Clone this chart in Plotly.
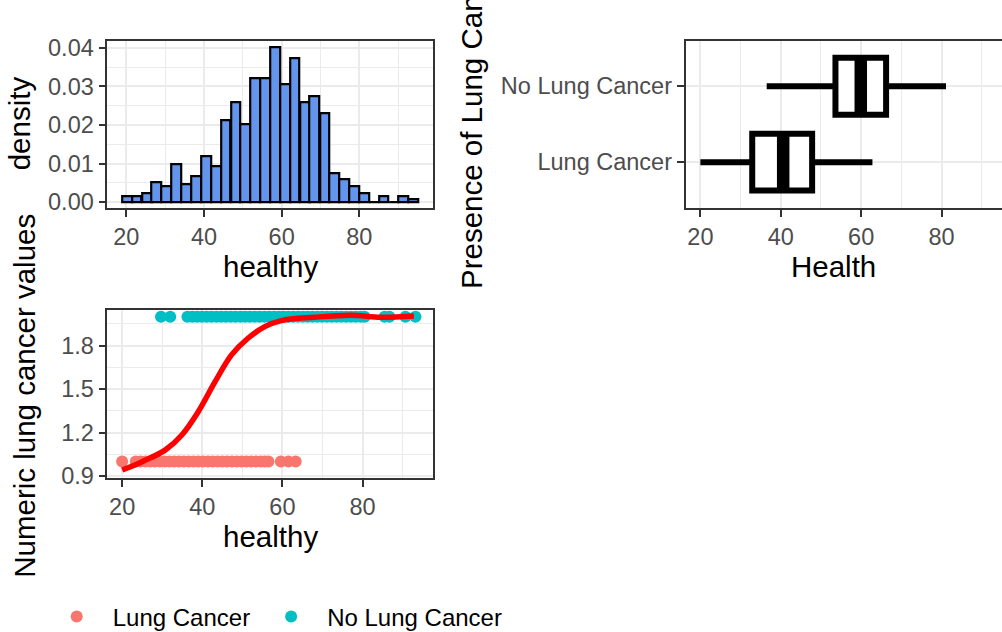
import plotly.graph_objects as go

# ---------------- data ----------------
# Histogram of "healthy" (density per bin, 30 bins)
hist_bin_centers = [20.2, 22.7, 25.3, 27.8, 30.4, 32.9, 35.4, 38.0, 40.5, 43.1,
                    45.6, 48.2, 50.7, 53.3, 55.8, 58.3, 60.9, 63.4, 66.0, 68.5,
                    71.1, 73.6, 76.1, 78.7, 81.2, 83.8, 86.3, 88.9, 91.4, 93.9]
hist_density = [0.0015, 0.0015, 0.0022, 0.0052, 0.0041, 0.0097, 0.0046, 0.0067, 0.0119, 0.0093,
                0.0211, 0.0259, 0.0201, 0.0320, 0.0320, 0.0401, 0.0306, 0.0373, 0.0259, 0.0275,
                0.0230, 0.0074, 0.0059, 0.0041, 0.0022, 0.0, 0.0015, 0.0, 0.0015, 0.0007]
hist_bin_width = 2.54

# Boxplot of Health by presence of lung cancer
box_categories = ["Lung Cancer", "No Lung Cancer"]
box_positions = [1, 2]
box_lowerfence = [20.0, 36.5]
box_q1 = [32.9, 53.6]
box_median = [40.6, 59.9]
box_q3 = [47.8, 66.2]
box_upperfence = [62.8, 81.1]

# Scatter: healthy vs numeric lung cancer value
lc_x = [20.0, 23.4, 24.6, 25.8, 27.0, 28.2, 29.4, 30.6, 31.8, 33.0, 34.2, 35.4, 36.6,
        37.8, 39.0, 40.2, 41.4, 42.6, 43.8, 45.0, 46.2, 47.4, 48.6, 49.8, 51.0, 52.2,
        53.4, 54.6, 55.6, 56.5, 59.6, 61.5, 63.3]
lc_y = [1] * len(lc_x)
nolc_x = [29.7, 32.0, 36.3, 37.5, 38.7, 39.9, 41.1, 42.3, 43.5, 44.7, 45.9, 47.1, 48.3,
          49.5, 50.7, 51.9, 53.1, 54.3, 55.5, 56.7, 57.9, 59.1, 60.3, 61.5, 62.7, 63.9,
          65.1, 66.3, 67.5, 68.7, 69.9, 71.1, 72.3, 73.5, 74.7, 75.9, 77.1, 78.3, 79.5,
          80.5, 85.5, 86.7, 90.7, 93.2]
nolc_y = [2] * len(nolc_x)

# Smoothed fit
smooth_x = [20.0, 25.0, 30.8, 34.9, 39.0, 43.2, 47.3, 51.4, 55.6, 59.7, 68.0, 77.1, 84.5, 92.8]
smooth_y = [0.941, 0.999, 1.08, 1.183, 1.344, 1.551, 1.736, 1.851, 1.931, 1.973, 1.996, 2.01, 1.996, 2.005]

# ---------------- styling ----------------
W, H = 1002, 632
FONT = "Liberation Sans, Arial, sans-serif"
TICK_FONT = dict(family=FONT, size=23.5, color="#4D4D4D")
TITLE_SIZE = 29.5
GRID = "#EBEBEB"
BORDER = "#333333"
C_LC = "#F8766D"
C_NOLC = "#00BFC4"


def px_x(p):
    return p / W


def px_y(p):
    return 1 - p / H


def axis_common(**kw):
    d = dict(showline=True, linecolor=BORDER, linewidth=1.6, ticks="outside", ticklen=7,
             tickwidth=2, tickcolor=BORDER, tickfont=TICK_FONT, showgrid=True,
             gridcolor=GRID, gridwidth=2.2, zeroline=False, automargin=False, fixedrange=True)
    d.update(kw)
    return d


fig = go.Figure()

# Histogram
fig.add_trace(go.Bar(x=hist_bin_centers, y=hist_density, width=hist_bin_width,
                     marker=dict(color="#6495ED", line=dict(color="black", width=2.2)),
                     showlegend=False, xaxis="x", yaxis="y", hoverinfo="x+y"))

# Boxplot
fig.add_trace(go.Box(orientation="h", y=box_positions, q1=box_q1, median=box_median, q3=box_q3,
                     lowerfence=box_lowerfence, upperfence=box_upperfence, width=0.75,
                     fillcolor="white", line=dict(color="black", width=6), whiskerwidth=0,
                     boxpoints=False, showlegend=False, xaxis="x2", yaxis="y2"))
# thicker median lines (ggplot fatten)
med_x, med_y = [], []
for m, p in zip(box_median, box_positions):
    med_x += [m, m, None]
    med_y += [p - 0.375, p + 0.375, None]
fig.add_trace(go.Scatter(x=med_x, y=med_y, mode="lines", line=dict(color="black", width=12.5),
                         showlegend=False, hoverinfo="skip", xaxis="x2", yaxis="y2"))

# Scatter
fig.add_trace(go.Scatter(x=lc_x, y=lc_y, mode="markers", name="Lung Cancer",
                         marker=dict(color=C_LC, size=12), xaxis="x3", yaxis="y3"))
fig.add_trace(go.Scatter(x=nolc_x, y=nolc_y, mode="markers", name="No Lung Cancer",
                         marker=dict(color=C_NOLC, size=12), xaxis="x3", yaxis="y3"))
fig.add_trace(go.Scatter(x=smooth_x, y=smooth_y, mode="lines", line=dict(color="#FF0000", width=5.5, shape="spline"),
                         showlegend=False, xaxis="x3", yaxis="y3"))

minor_x = dict(tickvals=[10, 30, 50, 70, 90], showgrid=True, gridcolor=GRID, gridwidth=1.1)

fig.update_layout(
    width=W, height=H,
    margin=dict(l=0, r=0, t=0, b=0, autoexpand=False),
    paper_bgcolor="white", plot_bgcolor="white",
    font=dict(family=FONT, color="black"),
    bargap=0,
    xaxis=axis_common(domain=[px_x(107.3), px_x(432.7)], range=[15.1, 98.9], tickvals=[20, 40, 60, 80],
                      minor=minor_x, mirror=True, anchor="y"),
    yaxis=axis_common(domain=[px_y(208.3), px_y(41.3)], range=[-0.0016, 0.0417],
                      tickvals=[0, 0.01, 0.02, 0.03, 0.04], tickformat=".2f",
                      minor=dict(tickvals=[0.005, 0.015, 0.025, 0.035], showgrid=True, gridcolor=GRID, gridwidth=1.1),
                      mirror=True, anchor="x"),
    xaxis2=axis_common(domain=[px_x(685.5), 1.0], range=[16.3, 16.3 + (W - 685.5) / 4.02],
                       tickvals=[20, 40, 60, 80], minor=minor_x, mirror=True, anchor="y2"),
    yaxis2=axis_common(domain=[px_y(207.7), px_y(40.7)], range=[0.4, 2.6], tickvals=box_positions,
                       ticktext=box_categories, mirror=False, anchor="x2"),
    xaxis3=axis_common(domain=[px_x(107.3), px_x(432.7)], range=[16.3, 97.5], tickvals=[20, 40, 60, 80],
                       minor=minor_x, mirror=True, anchor="y3"),
    yaxis3=axis_common(domain=[px_y(477.7), px_y(310)], range=[0.888, 2.046],
                       tickvals=[0.9, 1.2, 1.5, 1.8], tickformat=".1f",
                       minor=dict(tickvals=[1.05, 1.35, 1.65, 1.95], showgrid=True, gridcolor=GRID, gridwidth=1.1),
                       mirror=True, anchor="x3"),
    legend=dict(orientation="h", x=px_x(40.7), y=px_y(617), xanchor="left", yanchor="middle",
                font=dict(family=FONT, size=24, color="black"), bgcolor="rgba(0,0,0,0)",
                itemwidth=62),
    annotations=[
        dict(text="healthy", x=px_x(270), y=px_y(266.7), xref="paper", yref="paper",
             showarrow=False, font=dict(size=TITLE_SIZE, color="black"), xanchor="center", yanchor="middle"),
        dict(text="density", x=px_x(19), y=px_y(123.3), xref="paper", yref="paper", textangle=-90,
             showarrow=False, font=dict(size=TITLE_SIZE, color="black"), xanchor="center", yanchor="middle"),
        dict(text="Health", x=px_x(833.5), y=px_y(266), xref="paper", yref="paper",
             showarrow=False, font=dict(size=TITLE_SIZE, color="black"), xanchor="center", yanchor="middle"),
        dict(text="Presence of Lung Cancer", x=px_x(471.5), y=px_y(121.5), xref="paper", yref="paper", textangle=-90,
             showarrow=False, font=dict(size=TITLE_SIZE, color="black"), xanchor="center", yanchor="middle"),
        dict(text="healthy", x=px_x(270), y=px_y(536.5), xref="paper", yref="paper",
             showarrow=False, font=dict(size=TITLE_SIZE, color="black"), xanchor="center", yanchor="middle"),
        dict(text="Numeric lung cancer values", x=px_x(25), y=px_y(395.8), xref="paper", yref="paper", textangle=-90,
             showarrow=False, font=dict(size=TITLE_SIZE, color="black"), xanchor="center", yanchor="middle"),
    ],
)

fig.write_html("out.html", config={"displayModeBar": False},
               post_script="document.body.style.margin='0';document.body.style.overflow='hidden';")
